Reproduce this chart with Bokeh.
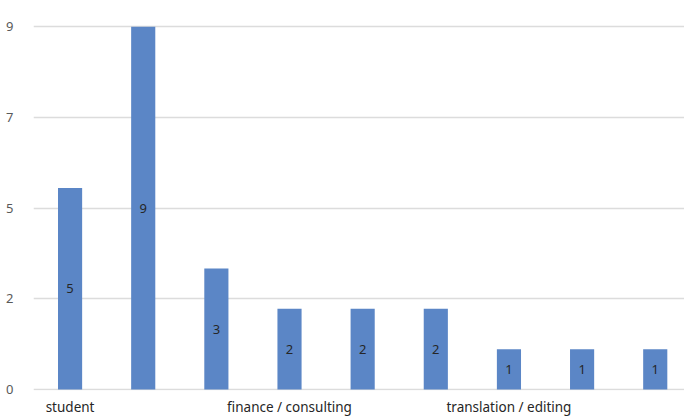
from bokeh.plotting import figure
from bokeh.models import ColumnDataSource, Range1d, FixedTicker
from bokeh.core.properties import value
from bokeh.embed import file_html
from bokeh.resources import INLINE

# Data
categories = ["student", "", "", "finance / consulting", "", "", "translation / editing", "", ""]
counts = [5, 9, 3, 2, 2, 2, 1, 1, 1]
x_tick_positions = [0, 3, 6]
x_tick_labels = ["student", "finance / consulting", "translation / editing"]
y_tick_values = [0, 2.25, 4.5, 6.75, 9]
y_tick_labels = ["0", "2", "5", "7", "9"]

idx = list(range(len(counts)))
src = ColumnDataSource(dict(
    x=idx,
    top=counts,
    mid=[c / 2 for c in counts],
    lab=[str(c) for c in counts],
))

FONT = "Noto Sans"

p = figure(width=684, height=418, output_backend="svg", toolbar_location=None,
           x_range=Range1d(-0.5, 8.4), y_range=Range1d(-0.025, 9.5),
           min_border_left=33, min_border_right=0, min_border_top=6, min_border_bottom=0)

p.vbar(x="x", top="top", width=0.33, bottom=0, source=src,
       fill_color="#5b86c6", line_color=None)

p.text(x="x", y="mid", text="lab", source=src, text_align="center",
       text_baseline="middle", text_font=value(FONT), text_font_size="13px",
       text_color="#262626")

p.outline_line_color = None
p.background_fill_color = "white"
p.border_fill_color = "white"

p.xgrid.grid_line_color = None
p.ygrid.grid_line_color = "#dcdcdc"
p.ygrid.grid_line_width = 1.5

p.yaxis.ticker = FixedTicker(ticks=y_tick_values)
p.yaxis.major_label_overrides = {v: l for v, l in zip(y_tick_values, y_tick_labels)}
p.yaxis.axis_line_color = None
p.yaxis.major_tick_line_color = None
p.yaxis.minor_tick_line_color = None
p.yaxis.major_tick_out = 0
p.yaxis.major_tick_in = 0
p.yaxis.major_label_standoff = 20
p.yaxis.major_label_text_font = FONT
p.yaxis.major_label_text_font_size = "13px"
p.yaxis.major_label_text_color = "#595959"

p.xaxis.ticker = FixedTicker(ticks=x_tick_positions)
p.xaxis.major_label_overrides = {v: l for v, l in zip(x_tick_positions, x_tick_labels)}
p.xaxis.axis_line_color = None
p.xaxis.major_tick_line_color = None
p.xaxis.minor_tick_line_color = None
p.xaxis.major_tick_out = 0
p.xaxis.major_tick_in = 0
p.xaxis.major_label_standoff = 7
p.xaxis.major_label_text_font = FONT
p.xaxis.major_label_text_font_size = "13.5px"
p.xaxis.major_label_text_color = "#262626"

open("out.html", "w").write(file_html(p, INLINE))
